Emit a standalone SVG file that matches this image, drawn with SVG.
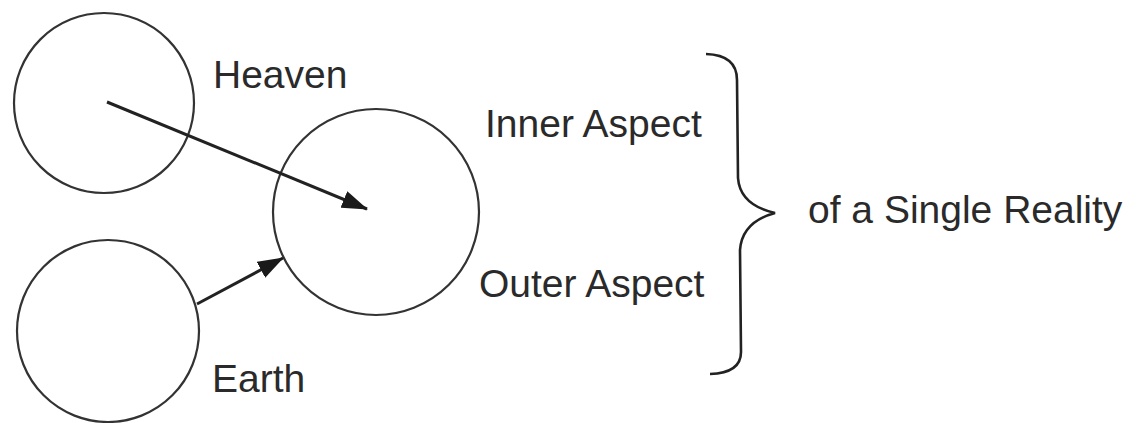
<svg xmlns="http://www.w3.org/2000/svg" width="1137" height="423" viewBox="0 0 1137 423">
<style>
.c{fill:none;stroke:#333;stroke-width:2.2}
.t{font-family:"Liberation Sans",Arial,sans-serif;font-size:39px;fill:#2a2a2a}
.a{fill:none;stroke:#222;stroke-width:3}
.b{fill:none;stroke:#222;stroke-width:2.6}
</style>
<defs>
<marker id="ah" viewBox="0 0 26 18" refX="25" refY="9" markerWidth="26" markerHeight="18" markerUnits="userSpaceOnUse" orient="auto">
<path d="M0,0 L26,9 L0,18 z" fill="#1a1a1a"/>
</marker>
</defs>
<rect width="1137" height="423" fill="#fff"/>
<g id="heaven">
<circle class="c" cx="104" cy="103" r="90"/>
<text class="t" x="213" y="88">Heaven</text>
</g>
<g id="earth">
<circle class="c" cx="108" cy="331" r="91"/>
<text class="t" x="212" y="392">Earth</text>
</g>
<g id="reality">
<circle class="c" cx="376" cy="212" r="103"/>
</g>
<g id="inner">
<text class="t" x="485" y="137">Inner Aspect</text>
</g>
<g id="outer">
<text class="t" x="479" y="297">Outer Aspect</text>
</g>
<g id="single">
<text class="t" x="808" y="223">of a Single Reality</text>
</g>
<g id="connectors">
<line class="a" x1="107" y1="102" x2="367" y2="209" marker-end="url(#ah)"/>
<line class="a" x1="197" y1="304" x2="283" y2="258" marker-end="url(#ah)"/>
<path class="b" d="M706,54 Q737,55 737,80 L738,178 Q740,205 775,213 Q742,222 740,250 L741,352 Q741,373 710,374"/>
</g>
</svg>
